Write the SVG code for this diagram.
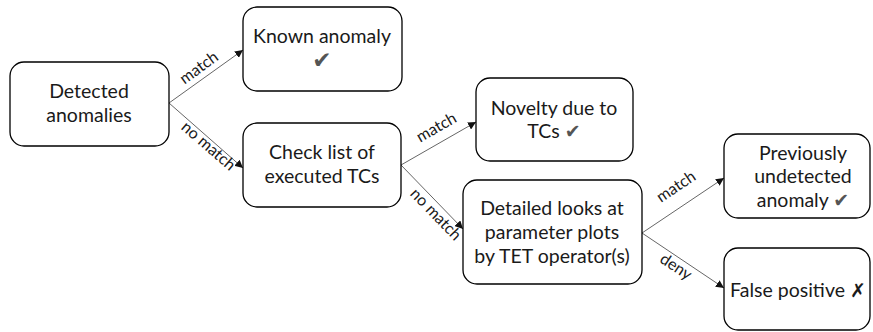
<svg xmlns="http://www.w3.org/2000/svg" width="873" height="332" viewBox="0 0 873 332">
  <style>
    .box { fill: #ffffff; stroke: #000000; stroke-width: 1.3; }
    .t { font-family: Lato, "Open Sans", sans-serif; font-size: 19.5px; fill: #1a1a1a; text-anchor: middle; }
    .lbl { font-family: Lato, "Open Sans", sans-serif; font-size: 16px; fill: #1a1a1a; text-anchor: middle; }
    .edge { stroke: #555555; stroke-width: 0.9; fill: none; marker-end: url(#arr); }
    .ok { font-family: "DejaVu Sans", sans-serif; fill: #555555; }
    .no { font-family: "DejaVu Sans", sans-serif; fill: #1a1a1a; }
  </style>
  <defs>
    <marker id="arr" viewBox="0 0 10 10" refX="10" refY="5" markerWidth="8" markerHeight="8" markerUnits="userSpaceOnUse" orient="auto">
      <path d="M0,0 L10,5 L0,10 z" fill="#111111"/>
    </marker>
  </defs>

  <g id="edges">
    <line class="edge" x1="169" y1="103" x2="243" y2="50"/>
    <line class="edge" x1="169" y1="103" x2="243" y2="168"/>
    <line class="edge" x1="401" y1="165" x2="476" y2="122"/>
    <line class="edge" x1="401" y1="165" x2="463" y2="229"/>
    <line class="edge" x1="642" y1="233" x2="724" y2="178"/>
    <line class="edge" x1="642" y1="233" x2="724" y2="288"/>
    <text class="lbl" transform="translate(202,72) rotate(-36)">match</text>
    <text class="lbl" transform="translate(205,150) rotate(41)">no match</text>
    <text class="lbl" transform="translate(439,132) rotate(-30)">match</text>
    <text class="lbl" transform="translate(432,218) rotate(46)">no match</text>
    <text class="lbl" transform="translate(679,191) rotate(-34)">match</text>
    <text class="lbl" transform="translate(673,271) rotate(34)">deny</text>
  </g>

  <g id="detected">
    <rect class="box" x="10" y="62" width="159" height="84" rx="14"/>
    <text class="t" x="89" y="98">Detected</text>
    <text class="t" x="89" y="122">anomalies</text>
  </g>

  <g id="known">
    <rect class="box" x="243" y="7" width="159" height="84" rx="14"/>
    <text class="t" x="322" y="43">Known anomaly</text>
    <text class="ok" x="322" y="68" font-size="23" text-anchor="middle">✔</text>
  </g>

  <g id="checklist">
    <rect class="box" x="243" y="123" width="158" height="84" rx="14"/>
    <text class="t" x="322" y="159">Check list of</text>
    <text class="t" x="322" y="183">executed TCs</text>
  </g>

  <g id="novelty">
    <rect class="box" x="476" y="78" width="157" height="83" rx="14"/>
    <text class="t" x="554" y="115">Novelty due to</text>
    <text class="t" x="554" y="138">TCs <tspan class="ok" font-size="19">✔</tspan></text>
  </g>

  <g id="detailed">
    <rect class="box" x="463" y="180" width="179" height="104" rx="14"/>
    <text class="t" x="552" y="215">Detailed looks at</text>
    <text class="t" x="552" y="239">parameter plots</text>
    <text class="t" x="552" y="263">by TET operator(s)</text>
  </g>

  <g id="previously">
    <rect class="box" x="724" y="134" width="146" height="84" rx="14"/>
    <text class="t" x="803" y="160">Previously</text>
    <text class="t" x="803" y="183">undetected</text>
    <text class="t" x="803" y="207">anomaly <tspan class="ok" font-size="19">✔</tspan></text>
  </g>

  <g id="falsepositive">
    <rect class="box" x="724" y="248" width="146" height="82" rx="14"/>
    <text class="t" x="798" y="297">False positive <tspan class="no" font-size="19">✗</tspan></text>
  </g>
</svg>
